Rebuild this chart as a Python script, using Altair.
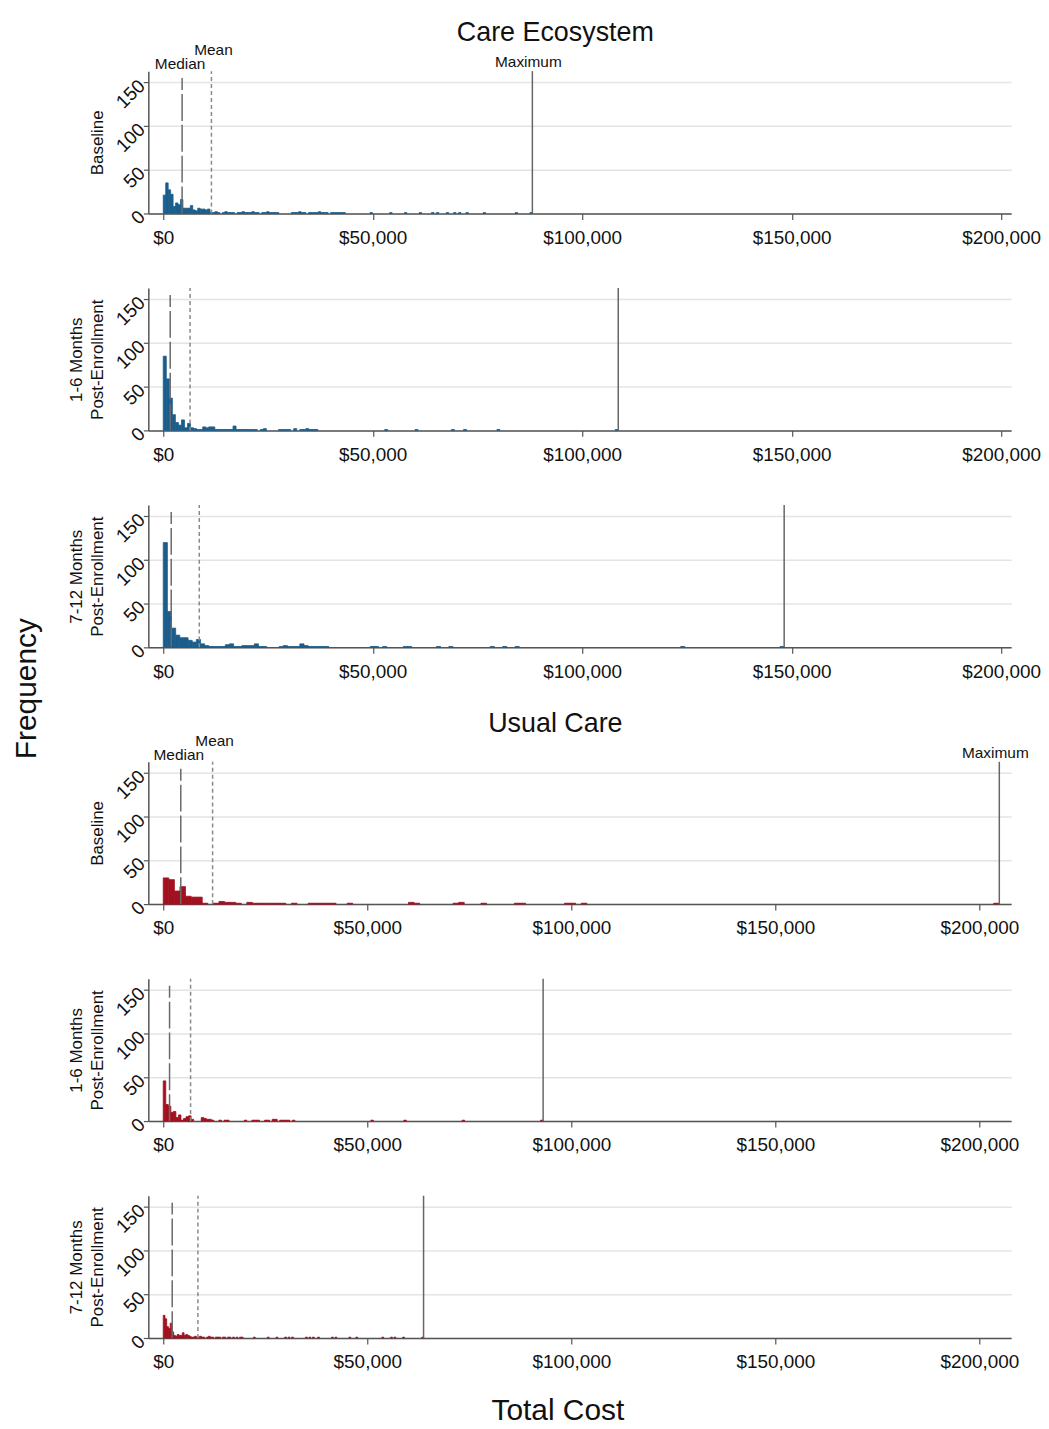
import altair as alt
import pandas as pd

FONT = "Liberation Sans"
NBINS = 150
BLUE = "#1b5d8c"
RED = "#a3101f"

# ---------------- data ----------------
row_titles = ["Baseline", ["1-6 Months", "Post-Enrollment"], ["7-12 Months", "Post-Enrollment"],
              "Baseline", ["1-6 Months", "Post-Enrollment"], ["7-12 Months", "Post-Enrollment"]]
group_titles = ["Care Ecosystem", "Usual Care"]
marker_names = ["Median", "Mean", "Maximum"]

max_cost = [88100, 108600, 148200, 204900, 93100, 63800]
median_cost = [4500, 1660, 1900, 4300, 1550, 2200]
mean_cost = [11500, 6400, 8600, 12100, 6700, 8500]

head_ce_base = [21, 35, 27, 22, 8, 12, 10, 16, 6, 6, 6, 9, 4, 3, 6, 5, 5, 4, 5, 1]
tail_bins_ce_base = [20, 21, 22, 24, 25, 26, 27, 28, 30, 31, 32, 33, 34, 35, 36, 37, 38, 40, 41, 42, 43, 44, 45, 46,
                     52, 53, 54, 55, 56, 57, 59, 60, 61, 62, 63, 64, 65, 66, 68, 69, 70, 71, 72, 73,
                     84, 92, 98, 104, 109, 111, 115, 118, 120, 123, 130, 143, 149]
tail_counts_ce_base = [1, 2, 1, 1, 2, 1, 1, 1, 1, 1, 2, 1, 1, 1, 2, 1, 1, 1, 1, 2, 1, 1, 1, 1,
                       1, 1, 1, 2, 1, 1, 1, 1, 1, 1, 2, 1, 1, 1, 1, 1, 1, 1, 1, 1,
                       1, 1, 1, 1, 1, 1, 1, 1, 1, 1, 1, 1, 1]

head_ce_1_6 = [85, 59, 37, 18, 9, 6, 12, 3, 8, 3, 2, 1, 1, 4, 3, 4, 4]
tail_bins_ce_1_6 = [17, 18, 19, 20, 21, 22, 23, 24, 25, 26, 27, 28, 29, 30, 32, 33, 38, 39, 40, 41, 43, 45, 46,
                    47, 48, 49, 50, 73, 83, 95, 99, 110, 149]
tail_counts_ce_1_6 = [1, 1, 1, 1, 1, 1, 5, 1, 1, 1, 1, 1, 1, 1, 1, 2, 1, 1, 1, 1, 2, 1, 1,
                      2, 1, 1, 1, 1, 1, 1, 1, 1, 1]

head_ce_7_12 = [120, 41, 22, 14, 11, 11, 8, 6, 9, 4, 2]
tail_bins_ce_7_12 = [11, 12, 13, 14, 15, 16, 17, 18, 19, 20, 21, 22, 23, 24, 28, 29, 30, 31, 32, 33, 34, 35, 36,
                     37, 38, 39, 50, 51, 53, 58, 59, 66, 69, 79, 82, 85, 125, 149]
tail_counts_ce_7_12 = [1, 1, 1, 1, 3, 4, 1, 1, 2, 2, 2, 4, 1, 1, 1, 2, 1, 1, 1, 4, 2, 1, 1,
                       1, 1, 1, 1, 1, 1, 1, 1, 1, 1, 1, 1, 1, 1, 1]

head_uc_base = [30, 28, 15, 20, 9, 8, 8, 1, 0, 1, 3, 2, 2, 1, 0, 2, 1, 1, 1, 1]
tail_bins_uc_base = [20, 21, 23, 26, 27, 28, 29, 30, 33, 44, 45, 52, 53, 57, 63, 64, 72, 73, 75, 149]
tail_counts_uc_base = [1, 1, 1, 1, 1, 1, 1, 1, 1, 2, 1, 1, 2, 1, 1, 1, 1, 1, 1, 1]

head_uc_1_6 = [46, 19, 17, 10, 11, 4, 7, 1, 3, 5, 6, 2]
tail_bins_uc_1_6 = [15, 16, 17, 18, 19, 22, 24, 25, 32, 35, 36, 37, 40, 41, 43, 44, 46, 47, 48, 49, 51,
                    82, 95, 118, 149]
tail_counts_uc_1_6 = [4, 3, 2, 2, 1, 1, 1, 1, 1, 1, 1, 1, 1, 1, 2, 2, 1, 1, 1, 1, 1,
                      1, 1, 1, 1]

head_uc_7_12 = [26, 22, 13, 11, 17, 7, 3, 2, 4, 3, 3, 6, 3, 4, 3, 2, 1]
tail_bins_uc_7_12 = [17, 18, 19, 20, 21, 22, 23, 25, 26, 27, 28, 30, 31, 32, 34, 35, 37, 38, 40, 42, 44, 45,
                     52, 60, 65, 70, 72, 74, 82, 84, 86, 89, 97, 99, 107, 111, 126, 131, 133, 138, 149]
tail_counts_uc_7_12 = [1, 2, 1, 1, 2, 1, 1, 1, 2, 1, 1, 1, 1, 1, 1, 1, 1, 1, 1, 1, 1, 1,
                       1, 1, 1, 1, 1, 1, 1, 1, 1, 1, 1, 1, 1, 1, 1, 1, 1, 1, 1]

heads = [head_ce_base, head_ce_1_6, head_ce_7_12, head_uc_base, head_uc_1_6, head_uc_7_12]
tail_bins = [tail_bins_ce_base, tail_bins_ce_1_6, tail_bins_ce_7_12,
             tail_bins_uc_base, tail_bins_uc_1_6, tail_bins_uc_7_12]
tail_counts = [tail_counts_ce_base, tail_counts_ce_1_6, tail_counts_ce_7_12,
               tail_counts_uc_base, tail_counts_uc_1_6, tail_counts_uc_7_12]

x_ticks = [0, 50000, 100000, 150000, 200000]
y_ticks = [0, 50, 100, 150]

# ---------------- layout settings ----------------
W = 867
H = 143
Y_TOP = 163
X_DOMAINS = [[-3563, 202375]] * 3 + [[-3654, 207800]] * 3


def panel(i, color, show_markers=False, group_title=None, x_title=None):
    w = max_cost[i] / NBINS
    counts = {}
    for b, c in enumerate(heads[i]):
        if c:
            counts[b] = c
    for b, c in zip(tail_bins[i], tail_counts[i]):
        counts[b] = c
    bins = sorted(counts)
    df = pd.DataFrame({"lo": [b * w for b in bins],
                       "hi": [(b + 1) * w for b in bins],
                       "n": [counts[b] for b in bins]})

    x_axis_kw = dict(values=x_ticks, format="$,.0f", labelFont=FONT, labelFontSize=19,
                     labelColor="#111", tickSize=6, tickColor="#555", tickWidth=1.2,
                     domainColor="#555", domainWidth=1.5, labelPadding=9, grid=False,
                     labelFlush=False, labelOverlap=False)
    if x_title:
        x_axis_kw.update(title=x_title, titleFont=FONT, titleFontSize=30, titleFontWeight="normal",
                         titleColor="#111", titlePadding=24, titleX=411)
    else:
        x_axis_kw.update(title=None)

    x = alt.X("lo:Q", scale=alt.Scale(domain=X_DOMAINS[i], nice=False, zero=False),
              axis=alt.Axis(**x_axis_kw))
    y = alt.Y("n:Q", scale=alt.Scale(domain=[0, Y_TOP], nice=False),
              axis=alt.Axis(values=y_ticks, format="d", labelAngle=315, labelAlign="right",
                            labelBaseline="middle", labelFont=FONT, labelFontSize=19,
                            labelColor="#111", tickSize=5, tickColor="#555", tickWidth=1.2,
                            labelPadding=2, domainColor="#555", domainWidth=1.5,
                            grid=True, gridColor="#e4e4e4", gridWidth=1.5,
                            title=row_titles[i], titleFont=FONT, titleFontSize=17,
                            titleFontWeight="normal", titleColor="#111", titlePadding=6,
                            titleLineHeight=21))

    bars = alt.Chart(df).mark_bar(color=color, stroke=color, strokeWidth=0.8).encode(
        x=x, x2="hi:Q", y=y, y2=alt.datum(0))

    med = alt.Chart(pd.DataFrame({"lo": [median_cost[i]]})).mark_rule(
        color="#6a6a6a", strokeWidth=1.5, strokeDash=[27, 4]).encode(
        x="lo:Q", y=alt.datum(0), y2=alt.datum(155))
    mean = alt.Chart(pd.DataFrame({"lo": [mean_cost[i]]})).mark_rule(
        color="#8a8a8a", strokeWidth=1.5, strokeDash=[4, 3]).encode(
        x="lo:Q", y=alt.datum(0), y2=alt.datum(Y_TOP))
    mx = alt.Chart(pd.DataFrame({"lo": [max_cost[i]]})).mark_rule(
        color="#666666", strokeWidth=1.5).encode(
        x="lo:Q", y=alt.datum(0), y2=alt.datum(Y_TOP))

    layers = [bars, med, mean, mx]

    if show_markers:
        tdf = pd.DataFrame({"lo": [median_cost[i], mean_cost[i], max_cost[i]], "t": marker_names})
        ys = {"Median": -2, "Mean": -16, "Maximum": -4}
        dxs = {"Median": -2, "Mean": 2, "Maximum": -4}
        for name in marker_names:
            layers.append(
                alt.Chart(tdf).transform_filter(alt.datum.t == name).mark_text(
                    font=FONT, fontSize=15.5, baseline="alphabetic", align="center",
                    color="#111", dx=dxs[name]).encode(
                    x="lo:Q", y=alt.value(ys[name]), text="t:N"))
    if group_title:
        layers.append(
            alt.Chart(pd.DataFrame({"t": [group_title]})).mark_text(
                font=FONT, fontSize=27, baseline="middle", align="center", color="#111").encode(
                x=alt.value(409), y=alt.value(-38), text="t:N"))

    return alt.layer(*layers).properties(width=W, height=H)


p = [
    panel(0, BLUE, show_markers=True, group_title=group_titles[0]),
    panel(1, BLUE),
    panel(2, BLUE),
    panel(3, RED, show_markers=True, group_title=group_titles[1]),
    panel(4, RED),
    panel(5, RED, x_title="Total Cost"),
]

group_a = alt.vconcat(p[0], p[1], p[2], spacing=40)
group_b = alt.vconcat(p[3], p[4], p[5], spacing=40)

chart = alt.vconcat(group_a, group_b, spacing=29).properties(
    title=alt.TitleParams("Frequency", orient="left", anchor="middle", font=FONT, fontSize=30,
                          fontWeight="normal", color="#111", offset=26, dx=34),
    padding={"left": 4, "top": 8, "right": 0, "bottom": 0},
    background="white",
).configure_view(stroke=None)

chart.save("out.html", embed_options={"renderer": "svg", "actions": False})
